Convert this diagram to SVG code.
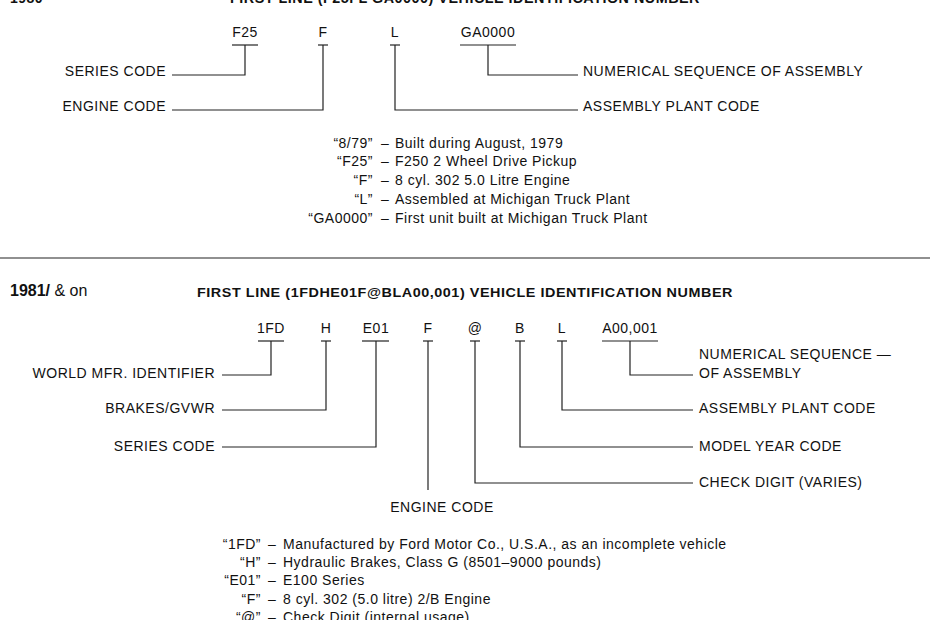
<svg xmlns="http://www.w3.org/2000/svg" width="930" height="620" viewBox="0 0 930 620">
<style>
text{font-family:"Liberation Sans",Arial,sans-serif;font-size:14px;letter-spacing:0.5px;fill:#111}
.b{font-weight:bold}
.r{text-anchor:end}
.m{text-anchor:middle}
#conn line,#conn polyline{stroke:#222;stroke-width:1.2;fill:none}
</style>
<rect width="930" height="620" fill="#fff"/>
<text x="10" y="3" class="b">1980</text>
<text x="230" y="3" class="b" textLength="470" lengthAdjust="spacingAndGlyphs">FIRST LINE (F25FL GA0000) VEHICLE IDENTIFICATION NUMBER</text>
<g id="conn">
<line x1="232" y1="45" x2="258" y2="45"/><line x1="318" y1="45" x2="328" y2="45"/><line x1="390" y1="45" x2="400" y2="45"/><line x1="460" y1="45" x2="516" y2="45"/>
<polyline points="245,45 245,75 172,75"/>
<polyline points="323,45 323,110 172,110"/>
<polyline points="395,45 395,110 578,110"/>
<polyline points="488,45 488,75 578,75"/>
<line x1="0" y1="258" x2="930" y2="258" stroke-width="2"/>
<line x1="258" y1="341" x2="284" y2="341"/><line x1="321" y1="341" x2="331" y2="341"/><line x1="362" y1="341" x2="389" y2="341"/><line x1="423" y1="341" x2="433" y2="341"/><line x1="470" y1="341" x2="480" y2="341"/><line x1="515" y1="341" x2="525" y2="341"/><line x1="557" y1="341" x2="567" y2="341"/><line x1="602" y1="341" x2="658" y2="341"/>
<polyline points="271,341 271,375 222,375"/>
<polyline points="326,341 326,410 222,410"/>
<polyline points="376,341 376,447 222,447"/>
<line x1="428" y1="341" x2="428" y2="490"/>
<polyline points="475,341 475,483 693,483"/>
<polyline points="520,341 520,447 693,447"/>
<polyline points="562,341 562,410 693,410"/>
<polyline points="630,341 630,375 693,375"/>
</g>
<g id="top">
<text x="245" y="37" class="m">F25</text><text x="323" y="37" class="m">F</text><text x="395" y="37" class="m">L</text><text x="488" y="37" class="m">GA0000</text>
<text x="166" y="76" class="r">SERIES CODE</text><text x="166" y="111" class="r">ENGINE CODE</text>
<text x="583" y="76">NUMERICAL SEQUENCE OF ASSEMBLY</text><text x="583" y="111">ASSEMBLY PLANT CODE</text>
</g>
<g id="toplist">
<text x="373" y="148" class="r">“8/79”</text><text x="381" y="148">–</text><text x="395" y="148">Built during August, 1979</text>
<text x="373" y="166" class="r">“F25”</text><text x="381" y="166">–</text><text x="395" y="166">F250 2 Wheel Drive Pickup</text>
<text x="373" y="185" class="r">“F”</text><text x="381" y="185">–</text><text x="395" y="185">8 cyl. 302 5.0 Litre Engine</text>
<text x="373" y="204" class="r">“L”</text><text x="381" y="204">–</text><text x="395" y="204">Assembled at Michigan Truck Plant</text>
<text x="373" y="223" class="r">“GA0000”</text><text x="381" y="223">–</text><text x="395" y="223">First unit built at Michigan Truck Plant</text>
</g>
<g id="head">
<text x="10" y="296" style="font-size:16px;letter-spacing:0"><tspan class="b">1981/</tspan> &amp; on</text>
<text x="197" y="297" class="b" style="font-size:13px" textLength="536" lengthAdjust="spacingAndGlyphs">FIRST LINE (1FDHE01F@BLA00,001) VEHICLE IDENTIFICATION NUMBER</text>
</g>
<g id="codes">
<text x="271" y="333" class="m">1FD</text><text x="326" y="333" class="m">H</text><text x="376" y="333" class="m">E01</text><text x="428" y="333" class="m">F</text><text x="475" y="333" class="m">@</text><text x="520" y="333" class="m">B</text><text x="562" y="333" class="m">L</text><text x="630" y="333" class="m">A00,001</text>
</g>
<g id="labels">
<text x="215" y="378" class="r">WORLD MFR. IDENTIFIER</text>
<text x="215" y="413" class="r">BRAKES/GVWR</text>
<text x="215" y="451" class="r">SERIES CODE</text>
<text x="442" y="512" class="m">ENGINE CODE</text>
<text x="699" y="359">NUMERICAL SEQUENCE —</text>
<text x="699" y="378">OF ASSEMBLY</text>
<text x="699" y="413">ASSEMBLY PLANT CODE</text>
<text x="699" y="451">MODEL YEAR CODE</text>
<text x="699" y="487">CHECK DIGIT (VARIES)</text>
</g>
<g id="botlist">
<text x="261" y="549" class="r">“1FD”</text><text x="268" y="549">–</text><text x="283" y="549">Manufactured by Ford Motor Co., U.S.A., as an incomplete vehicle</text>
<text x="261" y="567" class="r">“H”</text><text x="268" y="567">–</text><text x="283" y="567">Hydraulic Brakes, Class G (8501–9000 pounds)</text>
<text x="261" y="585" class="r">“E01”</text><text x="268" y="585">–</text><text x="283" y="585">E100 Series</text>
<text x="261" y="604" class="r">“F”</text><text x="268" y="604">–</text><text x="283" y="604">8 cyl. 302 (5.0 litre) 2/B Engine</text>
<text x="261" y="622" class="r">“@”</text><text x="268" y="622">–</text><text x="283" y="622">Check Digit (internal usage)</text>
</g>
</svg>
